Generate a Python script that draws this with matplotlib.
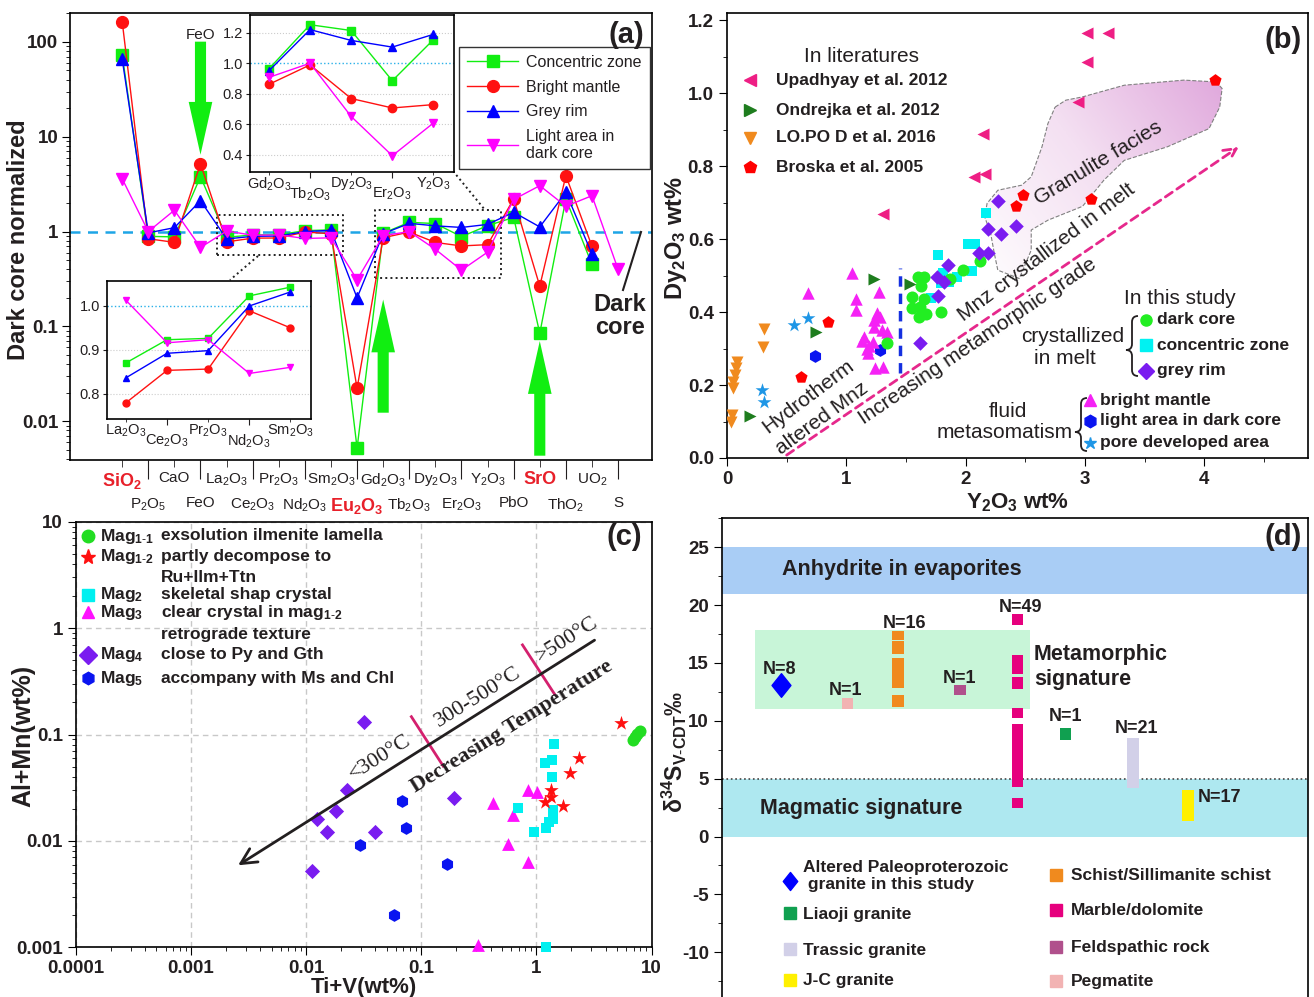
import numpy as np
import matplotlib
matplotlib.use('Agg')
import matplotlib.pyplot as plt
from matplotlib.lines import Line2D
from matplotlib.patches import Polygon, Rectangle, PathPatch
from matplotlib.colors import LinearSegmentedColormap
from matplotlib.path import Path
from matplotlib.transforms import Affine2D
from matplotlib.ticker import NullFormatter, MultipleLocator, FuncFormatter

plt.rcParams['font.family'] = ['Liberation Sans', 'DejaVu Sans']
plt.rcParams['mathtext.fontset'] = 'custom'
plt.rcParams['mathtext.rm'] = 'Liberation Sans'
plt.rcParams['mathtext.it'] = 'Liberation Sans:italic'
plt.rcParams['mathtext.bf'] = 'Liberation Sans:bold'
plt.rcParams['axes.unicode_minus'] = False
plt.rcParams['axes.linewidth'] = 1.2

TXT = '#231f20'
nan = np.nan

# ---------------- (a) data ----------------
oxides = ['SiO2', 'P2O5', 'CaO', 'FeO', 'La2O3', 'Ce2O3', 'Pr2O3', 'Nd2O3', 'Sm2O3', 'Eu2O3',
          'Gd2O3', 'Tb2O3', 'Dy2O3', 'Er2O3', 'Y2O3', 'PbO', 'SrO', 'ThO2', 'UO2', 'S']
oxide_labels = [r'SiO$_\mathbf{2}$', r'P$_2$O$_5$', 'CaO', 'FeO', r'La$_2$O$_3$', r'Ce$_2$O$_3$',
                r'Pr$_2$O$_3$', r'Nd$_2$O$_3$', r'Sm$_2$O$_3$', r'Eu$_\mathbf{2}$O$_\mathbf{3}$',
                r'Gd$_2$O$_3$', r'Tb$_2$O$_3$', r'Dy$_2$O$_3$', r'Er$_2$O$_3$', r'Y$_2$O$_3$',
                'PbO', 'SrO', r'ThO$_2$', r'UO$_2$', 'S']
red_oxides = ['SiO2', 'Eu2O3', 'SrO']

concentric = [73, 0.89, 0.88, 3.8, 0.870, 0.923, 0.926, 1.023, 1.043, 0.0052,
              0.963, 1.253, 1.215, 0.885, 1.155, 1.41, 0.0845, 2.21, 0.45, nan]
bright = [164, 0.84, 0.77, 5.2, 0.779, 0.853, 0.856, 0.989, 0.95, 0.0222,
          0.861, 0.989, 0.768, 0.706, 0.728, 2.21, 0.266, 3.89, 0.70, nan]
grey = [65.8, 0.97, 1.1, 2.12, 0.836, 0.892, 0.898, 1.0, 1.032, 0.2,
        0.95, 1.221, 1.15, 1.106, 1.19, 1.6, 1.12, 2.59, 0.58, nan]
light = [3.61, 1.0, 1.68, 0.68, 1.013, 0.916, 0.923, 0.846, 0.86, 0.31,
         0.907, 1.0, 0.65, 0.392, 0.607, 2.18, 3.05, 1.85, 2.39, 0.40]

a_series = [(concentric, '#11ee11', 's', 'Concentric zone'),
            (bright, '#ff1111', 'o', 'Bright mantle'),
            (grey, '#0000ff', '^', 'Grey rim'),
            (light, '#ff00ff', 'v', 'Light area in\ndark core')]

# ---------------- (b) data ----------------
upadhyay_x = [3.02, 3.19, 3.02, 2.94, 2.15, 2.07, 2.16, 1.31]
upadhyay_y = [1.164, 1.164, 1.086, 0.976, 0.887, 0.771, 0.778, 0.670]
ondrejka_x = [1.23, 1.53, 0.75, 0.19]
ondrejka_y = [0.49, 0.477, 0.346, 0.116]
lopo_x = [0.31, 0.30, 0.08, 0.076, 0.067, 0.053, 0.048, 0.04, 0.034]
lopo_y = [0.353, 0.305, 0.264, 0.246, 0.227, 0.209, 0.191, 0.118, 0.10]
broska_x = [4.09, 3.05, 2.48, 2.42, 0.85, 0.62]
broska_y = [1.036, 0.711, 0.72, 0.69, 0.373, 0.223]
darkcore_x = [1.60, 1.65, 1.63, 1.55, 1.65, 1.55, 1.62, 1.67, 1.61, 1.79, 1.34, 1.87, 1.98, 2.12]
darkcore_y = [0.495, 0.495, 0.471, 0.442, 0.435, 0.41, 0.415, 0.395, 0.387, 0.401, 0.316, 0.49, 0.515, 0.539]
conc_x = [1.77, 2.02, 2.08, 2.17, 2.05, 1.93, 1.86, 1.81, 1.71, 1.79]
conc_y = [0.556, 0.588, 0.588, 0.672, 0.513, 0.495, 0.483, 0.508, 0.44, 0.479]
rim_x = [2.27, 2.19, 2.30, 2.42, 2.11, 2.19, 1.85, 1.76, 1.82, 1.77, 1.62]
rim_y = [0.704, 0.629, 0.614, 0.636, 0.562, 0.562, 0.529, 0.495, 0.483, 0.444, 0.314]
mantle_x = [1.05, 0.68, 1.08, 1.27, 1.08, 1.26, 1.28, 1.23, 1.23, 1.30, 1.34, 1.15, 1.13, 1.22,
            1.19, 1.17, 1.18, 1.24, 1.31]
mantle_y = [0.506, 0.453, 0.437, 0.456, 0.405, 0.398, 0.387, 0.378, 0.36, 0.352, 0.346, 0.333,
            0.321, 0.319, 0.308, 0.299, 0.288, 0.247, 0.25]
lightarea_x = [0.74, 1.28]
lightarea_y = [0.28, 0.296]
pore_x = [0.56, 0.68, 0.29, 0.31]
pore_y = [0.364, 0.385, 0.186, 0.154]
granulite_x = [2.75, 2.84, 2.98, 3.33, 3.83, 4.10, 4.15, 4.13, 4.04, 3.69, 3.33, 3.16, 2.98, 2.69,
               2.55, 2.55, 2.45, 2.27, 2.24, 2.21, 2.16, 2.18, 2.27, 2.47, 2.55, 2.64, 2.69]
granulite_y = [0.962, 0.981, 0.99, 1.022, 1.036, 1.031, 1.013, 0.962, 0.903, 0.853, 0.816, 0.762,
               0.69, 0.652, 0.625, 0.57, 0.492, 0.515, 0.562, 0.616, 0.661, 0.698, 0.734, 0.748,
               0.771, 0.853, 0.917]

# ---------------- (c) data ----------------
mag11_x = [7.9, 7.5, 7.25, 6.9]
mag11_y = [0.107, 0.1015, 0.0944, 0.088]
mag12_x = [5.4, 2.33, 1.96, 1.35, 1.35, 1.18, 1.69]
mag12_y = [0.128, 0.0595, 0.0438, 0.0298, 0.0258, 0.0232, 0.0215]
mag2_x = [1.43, 1.18, 1.37, 1.37, 0.69, 1.39, 1.39, 1.28, 1.22, 0.95, 1.21]
mag2_y = [0.0807, 0.054, 0.057, 0.0396, 0.0204, 0.0194, 0.0159, 0.015, 0.0133, 0.0122, 0.001]
mag3_x = [0.85, 1.01, 0.418, 0.628, 0.569, 0.85, 0.314]
mag3_y = [0.0302, 0.0291, 0.0228, 0.0177, 0.0093, 0.0063, 0.00105]
mag4_x = [0.0316, 0.0226, 0.0123, 0.0183, 0.0153, 0.0396, 0.194, 0.0113]
mag4_y = [0.13, 0.0302, 0.0161, 0.0193, 0.0122, 0.0122, 0.0253, 0.0052]
mag5_x = [0.0686, 0.0732, 0.0296, 0.167, 0.058]
mag5_y = [0.0235, 0.0133, 0.0091, 0.0061, 0.002]

# ---------------- (d) data ----------------
d_groups = ['Altered Paleoproterozoic\n granite in this study', 'Pegmatite', 'Schist/Sillimanite schist',
            'Feldspathic rock', 'Marble/dolomite', 'Liaoji granite', 'Trassic granite', 'J-C granite']
d_colors = ['#0000ff', '#f2b3b3', '#f08a1e', '#b0508c', '#e6007e', '#10a050', '#d2d0e8', '#fff000']
d_counts = [8, 1, 16, 1, 49, 1, 21, 17]
d_segments = [[(12.3, 13.9)],
              [(11.0, 12.0)],
              [(16.95, 17.8), (15.74, 16.89), (12.8, 15.4), (11.22, 12.26)],
              [(12.2, 13.1)],
              [(18.3, 19.2), (14.06, 15.7), (12.77, 13.75), (10.24, 11.1), (4.27, 9.72), (2.45, 3.37)],
              [(8.36, 9.4)],
              [(4.15, 8.5)],
              [(1.35, 4.0)]]
d_slot = [10.0, 21.4, 30.0, 40.6, 50.4, 58.6, 70.1, 79.5]

W, H = 1314, 997
fig = plt.figure(figsize=(W / 100, H / 100), dpi=100)
pix = Affine2D().scale(1 / W, -1 / H).translate(0, 1) + fig.transFigure


def fx(px):
    return px / W


def fy(py):
    return 1 - py / H


def box(l, t, r, b):
    return [l / W, 1 - b / H, (r - l) / W, (b - t) / H]


def ftext(px, py, s, **kw):
    kw.setdefault('color', TXT)
    return fig.text(fx(px), fy(py), s, **kw)


def fmark(px, py, marker, color, ms):
    fig.add_artist(Line2D([fx(px)], [fy(py)], marker=marker, color=color, ms=ms, ls='none',
                          transform=fig.transFigure))


def fline(p0, p1, **kw):
    fig.add_artist(Line2D([fx(p0[0]), fx(p1[0])], [fy(p0[1]), fy(p1[1])],
                          transform=fig.transFigure, **kw))


def brace(x_tip, x_back, y_top, y_bot, y_mid):
    xm = (x_tip + x_back) / 2
    verts = [(x_back, y_top), (xm, y_top), (xm, y_top + 6), (xm, y_mid - 6),
             (xm, y_mid), (x_tip, y_mid), (xm, y_mid), (xm, y_mid + 6),
             (xm, y_bot - 6), (xm, y_bot), (x_back, y_bot)]
    codes = [Path.MOVETO, Path.CURVE3, Path.CURVE3, Path.LINETO, Path.CURVE3, Path.CURVE3,
             Path.CURVE3, Path.CURVE3, Path.LINETO, Path.CURVE3, Path.CURVE3]
    fig.add_artist(PathPatch(Path(verts, codes), fc='none', ec=TXT, lw=1.3, transform=pix))


def bold_ticks(ax, size):
    for t in ax.get_xticklabels() + ax.get_yticklabels():
        t.set_fontweight('bold')
        t.set_fontsize(size)
        t.set_color(TXT)


# ======================= panel (a) =======================
ax = fig.add_axes(box(70, 13, 652, 460))
xa = np.arange(len(oxides))
for vals, c, m, lab in a_series:
    ax.plot(xa, vals, color=c, marker=m, ms=8.5, lw=1, label=lab, zorder=3)
ax.axhline(1, color='#1ea5e6', ls='--', lw=1.8, dashes=(4, 3), zorder=1)
ax.set_yscale('log')
ax.set_ylim(0.0039, 202)
ax.set_xlim(-2, 20.3)
ax.yaxis.set_major_formatter(FuncFormatter(lambda v, p: f'{v:g}'))
ax.yaxis.set_minor_formatter(NullFormatter())
ax.set_xticks(xa[1::2])
ax.set_xticklabels(oxide_labels[1::2])
ax.set_xticks(xa[0::2], minor=True)
ax.set_xticklabels(oxide_labels[0::2], minor=True)
ax.tick_params(axis='x', which='major', length=14, pad=12, labelsize=11, colors=TXT)
ax.tick_params(axis='x', which='minor', length=5, pad=3, labelsize=11, colors=TXT)
ax.tick_params(axis='y', which='major', length=6, labelsize=13.5, pad=2.5)
ax.tick_params(axis='y', which='minor', length=3)
for t in ax.get_yticklabels():
    t.set_fontweight('bold')
    t.set_color(TXT)
for t, name in zip(ax.get_xticklabels(minor=True), oxides[0::2]):
    if name in red_oxides:
        t.set_color('#e8202a'); t.set_fontweight('bold'); t.set_fontsize(13)
for t, name in zip(ax.get_xticklabels(), oxides[1::2]):
    if name in red_oxides:
        t.set_color('#e8202a'); t.set_fontweight('bold'); t.set_fontsize(13)
ax.set_ylabel('Dark core normalized', fontsize=17, fontweight='bold', color=TXT)
ax.yaxis.set_label_coords(fx(30), fy(240), transform=fig.transFigure)

# dashed boxes around the zoomed parts
for x0, x1, y0, y1 in [(3.63, 8.45, 0.568, 1.484), (9.69, 14.51, 0.326, 1.70)]:
    ax.plot([x0, x1, x1, x0, x0], [y0, y0, y1, y1, y0], color='#222222', ls=':', lw=1.4, zorder=2)
fline((258, 256), (230, 280), color='#222222', ls=':', lw=1.4)
fline((453, 171), (485, 210), color='#222222', ls=':', lw=1.4)

# green arrows
arrow_style = 'simple,head_length=38,head_width=17,tail_width=8'
for x, y_tail, y_tip in [(3, 100.7, 6.47), (10, 0.0123, 0.192), (16, 0.00433, 0.070)]:
    ax.annotate('', xy=(x, y_tip), xytext=(x, y_tail),
                arrowprops=dict(arrowstyle=arrow_style, color='#11ee11', lw=0,
                                shrinkA=0, shrinkB=0, mutation_scale=1), zorder=4)
ftext(201, 35, 'FeO', fontsize=11, ha='center', va='center')
ftext(620, 316, 'Dark\ncore', fontsize=17, fontweight='bold', ha='center', va='center', linespacing=1.05)
fline((623, 290), (641, 232), color=TXT, lw=1.5)
ftext(644, 35, '(a)', fontsize=21, fontweight='bold', ha='right', va='center')

leg = ax.legend(loc='upper left', bbox_to_anchor=(fx(459), fy(47)), bbox_transform=fig.transFigure,
                fontsize=11.5, frameon=True, fancybox=False, edgecolor='#333333', framealpha=1,
                handlelength=3.2, labelspacing=0.6, borderpad=0.5, borderaxespad=0, handletextpad=0.5)
leg.get_frame().set_linewidth(1.0)
for t in leg.get_texts():
    t.set_color(TXT)
leg.set_zorder(6)


def inset(rect, lo, hi, ylim, yticks, grids, ms):
    ins = fig.add_axes(box(*rect))
    for vals, c, m, lab in a_series:
        ins.plot(range(5), vals[lo:hi], color=c, marker=m, ms=ms, lw=1)
    ins.set_xlim(-0.46, 4.5)
    ins.set_ylim(*ylim)
    ins.set_yticks(yticks)
    ins.yaxis.set_major_formatter(FuncFormatter(lambda v, p: f'{v:.1f}'))
    for v in grids:
        ins.axhline(v, color='#cccccc', ls=':', lw=0.8, zorder=0)
    ins.axhline(1.0, color='#2ab0e8', ls=':', lw=1.0, zorder=0)
    ins.set_xticks([1, 3])
    ins.set_xticklabels([oxide_labels[lo + 1], oxide_labels[lo + 3]])
    ins.set_xticks([0, 2, 4], minor=True)
    ins.set_xticklabels([oxide_labels[lo], oxide_labels[lo + 2], oxide_labels[lo + 4]], minor=True)
    ins.tick_params(axis='x', which='major', length=4, pad=6, labelsize=10.5, colors=TXT)
    ins.tick_params(axis='x', which='minor', length=2, pad=0.5, labelsize=10.5, colors=TXT)
    ins.tick_params(axis='y', length=3, labelsize=10.5, colors=TXT, pad=2)
    ins.set_zorder(5)
    return ins


inset((250, 15, 454, 172), 10, 15, (0.285, 1.317), [0.4, 0.6, 0.8, 1.0, 1.2], [0.4, 0.6, 0.8, 1.2], 6)
inset((107, 281, 311, 419), 4, 9, (0.742, 1.057), [0.8, 0.9, 1.0], [0.8, 0.9], 5)

# ======================= panel (b) =======================
bx = fig.add_axes(box(727, 13, 1308, 458))
gran = Polygon(np.column_stack([granulite_x, granulite_y]), closed=True, fc='none', ec='#808080',
               ls='--', lw=0.8, zorder=2)
bx.add_patch(gran)
gv = np.linspace(0, 1, 200)
grad = gv[None, :] * 0.6 + gv[::-1, None] * 0.4
cmap = LinearSegmentedColormap.from_list('gran', ['#ffffff', '#f4e0f2', '#dfa5db'])
im = bx.imshow(grad, extent=(2.1, 4.2, 0.45, 1.06), cmap=cmap, aspect='auto', origin='upper', zorder=1)
im.set_clip_path(gran)

bx.scatter(lopo_x, lopo_y, marker='v', s=75, color='#f08a1e', zorder=3, lw=0)
bx.scatter(ondrejka_x, ondrejka_y, marker='>', s=75, color='#1e7d1e', zorder=3, lw=0)
bx.scatter(upadhyay_x, upadhyay_y, marker='<', s=75, color='#ee1e84', zorder=3, lw=0)
bx.scatter(broska_x, broska_y, marker='p', s=85, color='#ff0000', zorder=3, lw=0)
bx.scatter(pore_x, pore_y, marker='*', s=110, color='#1e96e6', zorder=3, lw=0)
bx.scatter(lightarea_x, lightarea_y, marker='h', s=85, color='#0a14f0', zorder=3, lw=0)
bx.scatter(mantle_x, mantle_y, marker='^', s=80, color='#f522f5', zorder=3, lw=0)
bx.scatter(conc_x, conc_y, marker='s', s=60, color='#00f2f2', zorder=3, lw=0)
bx.scatter(darkcore_x, darkcore_y, marker='o', s=75, color='#22ee22', zorder=3, lw=0)
bx.scatter(rim_x, rim_y, marker='D', s=55, color='#7a1cf0', zorder=3, lw=0)

bx.plot([1.45, 1.45], [0.232, 0.52], color='#1530e0', ls='--', lw=2.5, dashes=(3, 2), zorder=3)
bx.annotate('', xy=(4.29, 0.853), xytext=(0.50, 0.008),
            arrowprops=dict(arrowstyle='->', color='#e6288c', lw=2, ls=(0, (3, 2)),
                            mutation_scale=22, shrinkA=0, shrinkB=0), zorder=2)

bx.set_xlim(0, 4.87)
bx.set_ylim(0, 1.22)
bx.xaxis.set_major_locator(MultipleLocator(1))
bx.xaxis.set_minor_locator(MultipleLocator(0.5))
bx.yaxis.set_major_locator(MultipleLocator(0.2))
bx.yaxis.set_minor_locator(MultipleLocator(0.1))
bx.yaxis.set_major_formatter(FuncFormatter(lambda v, p: f'{v:.1f}'))
bx.tick_params(which='major', length=6)
bx.tick_params(which='minor', length=3)
bold_ticks(bx, 13.5)
bx.set_xlabel(r'Y$_\mathbf{2}$O$_\mathbf{3}$ wt%', fontsize=16, fontweight='bold', color=TXT, labelpad=2)
bx.set_ylabel(r'Dy$_\mathbf{2}$O$_\mathbf{3}$ wt%', fontsize=17, fontweight='bold', color=TXT)
bx.yaxis.set_label_coords(fx(689), fy(238), transform=fig.transFigure)

ftext(862, 57, 'In literatures', fontsize=15, ha='center', va='center')
for py, mk, col, lab in [(80, '<', '#ee1e84', 'Upadhyay et al. 2012'),
                         (110, '>', '#1e7d1e', 'Ondrejka et al. 2012'),
                         (138, 'v', '#f08a1e', 'LO.PO D et al. 2016'),
                         (167, 'p', '#ff0000', 'Broska et al. 2005')]:
    fmark(750, py, mk, col, 9)
    ftext(776, py, lab, fontsize=12.5, fontweight='bold', ha='left', va='center')
ftext(1098, 163, 'Granulite facies', fontsize=15, rotation=31, ha='center', va='center', rotation_mode='anchor')
ftext(1047, 252, 'Mnz crystallized in melt', fontsize=15, rotation=37, ha='center', va='center', rotation_mode='anchor')
ftext(978, 341, 'Increasing metamorphic grade', fontsize=15, rotation=34, ha='center', va='center', rotation_mode='anchor')
ftext(808, 397, 'Hydrotherm', fontsize=15, rotation=37, ha='center', va='center', rotation_mode='anchor')
ftext(822, 418, 'altered Mnz', fontsize=15, rotation=36, ha='center', va='center', rotation_mode='anchor')
ftext(1180, 298, 'In this study', fontsize=15, ha='center', va='center')
ftext(1124, 337, 'crystallized', fontsize=15, ha='right', va='center')
ftext(1096, 358, 'in melt', fontsize=15, ha='right', va='center')
brace(1126, 1138, 316, 376, 350)
for py, mk, col, lab in [(320, 'o', '#22ee22', 'dark core'), (345, 's', '#00f2f2', 'concentric zone'),
                         (371, 'D', '#7a1cf0', 'grey rim')]:
    fmark(1146, py, mk, col, 8)
    ftext(1157, py, lab, fontsize=12.5, fontweight='bold', ha='left', va='center')
ftext(1008, 411, 'fluid', fontsize=15, ha='center', va='center')
ftext(1073, 433, 'metasomatism', fontsize=15, ha='right', va='center')
brace(1075, 1087, 398, 451, 432)
for py, mk, col, lab in [(400, '^', '#f522f5', 'bright mantle'), (421, 'h', '#0a14f0', 'light area in dark core'),
                         (443, '*', '#1e96e6', 'pore developed area')]:
    fmark(1090, py, mk, col, 9)
    ftext(1100, py, lab, fontsize=12.5, fontweight='bold', ha='left', va='center')
ftext(1302, 40, '(b)', fontsize=21, fontweight='bold', ha='right', va='center')

# ======================= panel (c) =======================
cx = fig.add_axes(box(76, 521.7, 651.5, 947.3))
cx.set_xscale('log')
cx.set_yscale('log')
cx.set_xlim(1e-4, 10)
cx.set_ylim(1e-3, 10)
cx.grid(True, which='major', color='#c8c8c8', ls='--', lw=1, dashes=(4, 3))
cx.set_axisbelow(True)
cx.scatter(mag4_x, mag4_y, marker='D', s=60, color='#7a1cf0', lw=0, zorder=3, clip_on=False)
cx.scatter(mag5_x, mag5_y, marker='h', s=85, color='#0a14f0', lw=0, zorder=3, clip_on=False)
cx.scatter(mag3_x, mag3_y, marker='^', s=85, color='#ff10ff', lw=0, zorder=3, clip_on=False)
cx.scatter(mag2_x, mag2_y, marker='s', s=60, color='#00f0f0', lw=0, zorder=3, clip_on=False)
cx.scatter(mag12_x, mag12_y, marker='*', s=120, color='#ff1010', lw=0, zorder=3, clip_on=False)
cx.scatter(mag11_x, mag11_y, marker='o', s=75, color='#22dd22', lw=0, zorder=3, clip_on=False)

cx.annotate('', xy=(0.00256, 0.0059), xytext=(3.2, 0.77),
            arrowprops=dict(arrowstyle='->', lw=2, color=TXT, mutation_scale=28, shrinkA=0, shrinkB=0))
cx.plot([0.082, 0.155], [0.147, 0.0505], color='#d4206e', lw=2)
cx.plot([0.757, 1.44], [0.695, 0.239], color='#d4206e', lw=2)
cx.xaxis.set_major_formatter(FuncFormatter(lambda v, p: f'{v:g}'))
cx.yaxis.set_major_formatter(FuncFormatter(lambda v, p: f'{v:g}'))
cx.xaxis.set_minor_formatter(NullFormatter())
cx.yaxis.set_minor_formatter(NullFormatter())
cx.tick_params(which='major', length=6)
cx.tick_params(which='minor', length=3)
bold_ticks(cx, 13.5)
cx.set_xlabel('Ti+V(wt%)', fontsize=16, fontweight='bold', color=TXT, labelpad=0)
cx.set_ylabel('Al+Mn(wt%)', fontsize=18, fontweight='bold', color=TXT)
cx.yaxis.set_label_coords(fx(35), fy(736), transform=fig.transFigure)

serif = ['Liberation Serif', 'DejaVu Serif']
ftext(380, 758, '<300°C', family=serif, fontsize=16, rotation=32, ha='center', va='center', rotation_mode='anchor')
ftext(478, 697, '300-500°C', family=serif, fontsize=16, rotation=32, ha='center', va='center', rotation_mode='anchor')
ftext(567, 640, '>500°C', family=serif, fontsize=16, rotation=32, ha='center', va='center', rotation_mode='anchor')
ftext(512, 727, 'Decreasing Temperature', family=serif, fontsize=16, fontweight='bold', rotation=32,
      ha='center', va='center', rotation_mode='anchor')

c_leg = [(536, 'o', '#22dd22', r'Mag$_{\mathbf{1\text{-}1}}$', 'exsolution ilmenite lamella'),
         (557, '*', '#ff1010', r'Mag$_{\mathbf{1\text{-}2}}$', 'partly decompose to'),
         (595, 's', '#00f0f0', r'Mag$_\mathbf{2}$', 'skeletal shap crystal'),
         (612, '^', '#ff10ff', r'Mag$_\mathbf{3}$', r'clear crystal in mag$_{\mathbf{1\text{-}2}}$'),
         (655, 'D', '#7a1cf0', r'Mag$_\mathbf{4}$', 'close to Py and Gth'),
         (678, 'h', '#0a14f0', r'Mag$_\mathbf{5}$', 'accompany with Ms and Chl')]
for py, mk, col, tag, desc in c_leg:
    fmark(88, py, mk, col, 9 if mk != '*' else 11)
    ftext(100, py, tag, fontsize=12.5, fontweight='bold', ha='left', va='center')
    ftext(161, py, desc, fontsize=12.5, fontweight='bold', ha='left', va='center')
ftext(161, 578, 'Ru+Ilm+Ttn', fontsize=12.5, fontweight='bold', ha='left', va='center')
ftext(161, 634, 'retrograde texture', fontsize=12.5, fontweight='bold', ha='left', va='center')
ftext(642, 537, '(c)', fontsize=21, fontweight='bold', ha='right', va='center')

# ======================= panel (d) =======================
dx = fig.add_axes(box(722.3, 518.3, 1308, 997))
dx.set_xlim(0, 100)
dx.set_ylim(-13.87, 27.5)
dx.axhspan(21, 25, color='#a9cdf5', lw=0, zorder=0)
dx.axhspan(0, 5, color='#aee8f0', lw=0, zorder=0)
dx.add_patch(Rectangle((5.5, 11.02), 47.0, 6.86, color='#c8f5d8', lw=0, zorder=0))
dx.axhline(5, color='#444444', ls=':', lw=1.2, zorder=1)

diamond = Path([(0, 1), (0.8, 0), (0, -1), (-0.8, 0), (0, 1)],
               [Path.MOVETO, Path.LINETO, Path.LINETO, Path.LINETO, Path.CLOSEPOLY])
for i, (segs, col, x) in enumerate(zip(d_segments, d_colors, d_slot)):
    if i == 0:
        lo, hi = segs[0]
        dx.plot([x], [(lo + hi) / 2], marker=diamond, ms=17, color=col, ls='none', zorder=3)
        continue
    for lo, hi in segs:
        dx.bar(x, hi - lo, bottom=lo, width=1.95, color=col, lw=0, zorder=3)

dx.yaxis.set_major_locator(MultipleLocator(5))
dx.yaxis.set_minor_locator(MultipleLocator(2.5))
dx.set_xticks([])
dx.spines['bottom'].set_visible(False)
dx.tick_params(which='major', length=6)
dx.tick_params(which='minor', length=3)
bold_ticks(dx, 13.5)
dx.set_ylabel(r'δ$^\mathbf{34}$S$_\mathbf{V\text{-}CDT}$‰', fontsize=16.5, fontweight='bold', color=TXT)
dx.yaxis.set_label_coords(fx(689), fy(752), transform=fig.transFigure)

ftext(782, 569, 'Anhydrite in evaporites', fontsize=15.5, fontweight='bold', ha='left', va='center')
ftext(1034, 654, 'Metamorphic', fontsize=15.5, fontweight='bold', ha='left', va='center')
ftext(1034, 679, 'signature', fontsize=15.5, fontweight='bold', ha='left', va='center')
ftext(760, 808, 'Magmatic signature', fontsize=15.5, fontweight='bold', ha='left', va='center')
n_pos = [(780, 670), (846, 690), (904, 623), (959, 678), (1020, 607), (1065, 716), (1136, 728)]
for (px, py), n in zip(n_pos, d_counts):
    ftext(px, py, f'N={n}', fontsize=13, fontweight='bold', ha='center', va='center')
ftext(1198, 797, f'N={d_counts[7]}', fontsize=13, fontweight='bold', ha='left', va='center')

leg_left = [(0, 881, 876), (5, 913, 915), (6, 949, 950), (7, 980, 980)]
leg_right = [(2, 875, 875), (4, 910, 910), (3, 947, 947), (1, 981, 981)]
for i, pym, pyt in leg_left:
    if i == 0:
        fmark(790, pym, diamond, d_colors[i], 13)
    else:
        fmark(790, pym, 's', d_colors[i], 9)
    ftext(803, pyt, d_groups[i], fontsize=12.5, fontweight='bold', ha='left', va='center', linespacing=1.15)
for i, pym, pyt in leg_right:
    fmark(1056, pym, 's', d_colors[i], 9)
    ftext(1071, pyt, d_groups[i], fontsize=12.5, fontweight='bold', ha='left', va='center')
ftext(1302, 537, '(d)', fontsize=21, fontweight='bold', ha='right', va='center')

fig.savefig('out.png', dpi=100)
